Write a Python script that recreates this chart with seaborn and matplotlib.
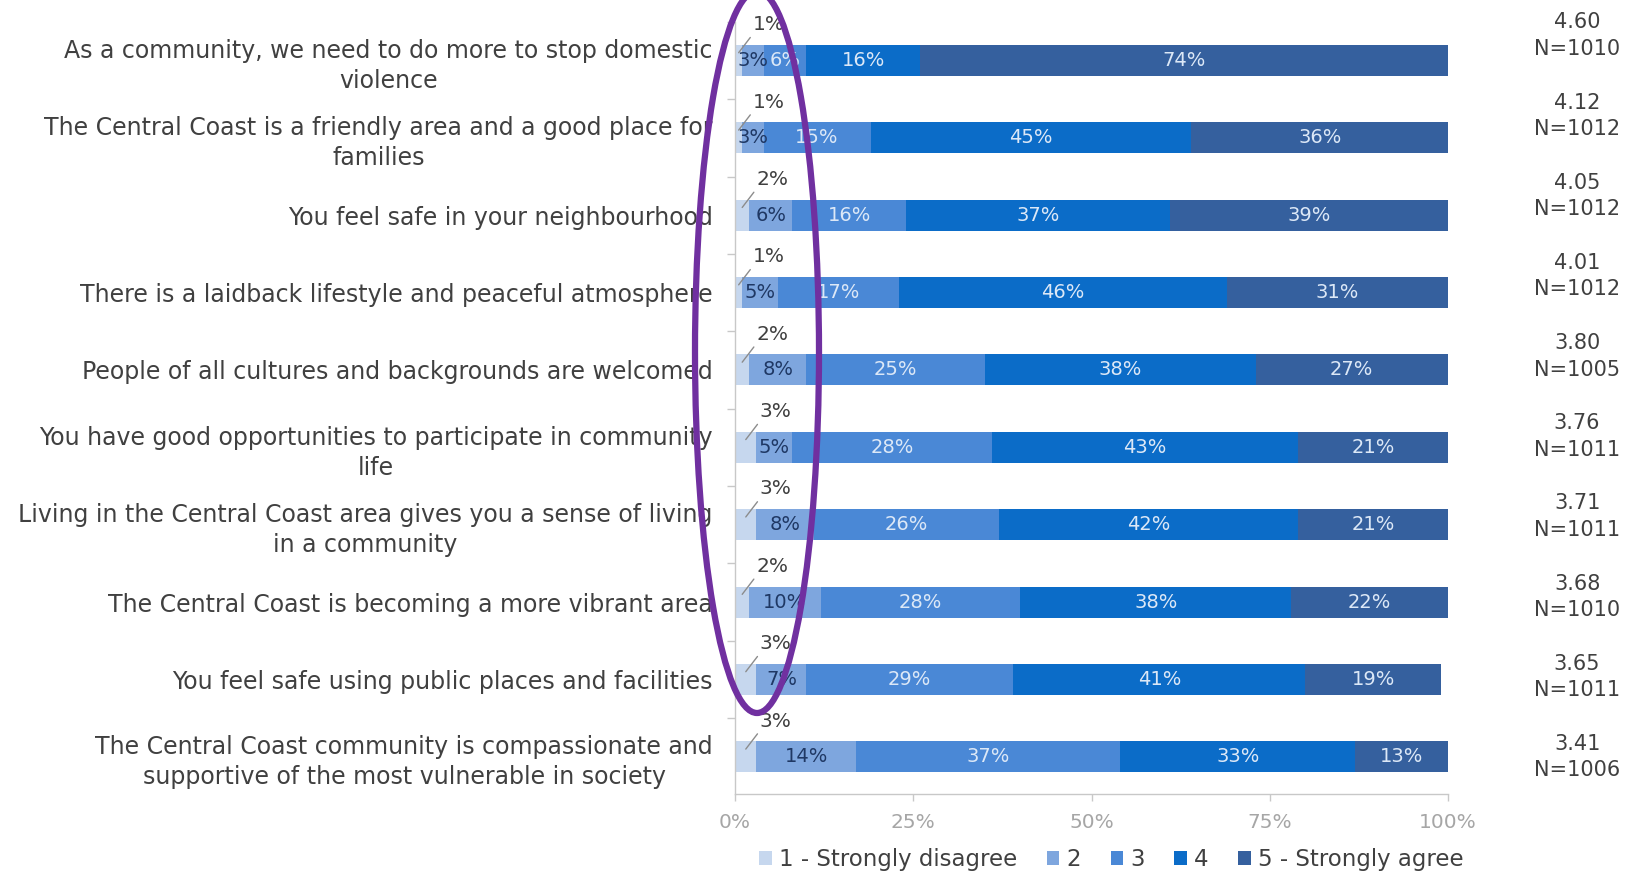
import numpy as np
import pandas as pd
import seaborn as sns
import matplotlib.pyplot as plt
import matplotlib.transforms as mtransforms
from matplotlib.patches import Patch, Ellipse
from matplotlib.ticker import FixedLocator

# Survey statements (top to bottom)
statements = [
    "As a community, we need to do more to stop domestic\nviolence",
    "The Central Coast is a friendly area and a good place for\nfamilies",
    "You feel safe in your neighbourhood",
    "There is a laidback lifestyle and peaceful atmosphere",
    "People of all cultures and backgrounds are welcomed",
    "You have good opportunities to participate in community\nlife",
    "Living in the Central Coast area gives you a sense of living\nin a community",
    "The Central Coast is becoming a more vibrant area",
    "You feel safe using public places and facilities",
    "The Central Coast community is compassionate and\nsupportive of the most vulnerable in society",
]

# Response shares (%) per agreement level
strongly_disagree = [1, 1, 2, 1, 2, 3, 3, 2, 3, 3]
level_2 = [3, 3, 6, 5, 8, 5, 8, 10, 7, 14]
level_3 = [6, 15, 16, 17, 25, 28, 26, 28, 29, 37]
level_4 = [16, 45, 37, 46, 38, 43, 42, 38, 41, 33]
strongly_agree = [74, 36, 39, 31, 27, 21, 21, 22, 19, 13]

mean_scores = [4.60, 4.12, 4.05, 4.01, 3.80, 3.76, 3.71, 3.68, 3.65, 3.41]
sample_sizes = [1010, 1012, 1012, 1012, 1005, 1011, 1011, 1010, 1011, 1006]

level_labels = ["1 - Strongly disagree", "2", "3", "4", "5 - Strongly agree"]
x_ticks = [0, 25, 50, 75, 100]

colors = ["#c6d7ee", "#7ea6de", "#4a88d6", "#0b6cc8", "#35609e"]
dark_text = "#1f3864"
light_text = "#dce8f7"
label_grey = "#404040"

sns.set_theme(style="white")
plt.rcParams["font.family"] = ["DejaVu Sans"]

levels = [strongly_disagree, level_2, level_3, level_4, strongly_agree]
shares = np.array(levels, dtype=float)
cumulative = np.cumsum(shares, axis=0)

fig = plt.figure(figsize=(16.27, 8.81), dpi=100)
fig.patch.set_facecolor("white")
ax = fig.add_axes([0.4518, 0.0988, 0.4382, 0.8765])

# Stacked bars: draw the running totals from the longest to the shortest
for k in range(len(levels) - 1, -1, -1):
    df = pd.DataFrame({"statement": statements, "total": cumulative[k]})
    sns.barplot(data=df, x="total", y="statement", orient="y", color=colors[k],
                width=0.4, saturation=1, edgecolor="none", linewidth=0, ax=ax)

ax.set_xlim(0, 100)
ax.set_ylim(9.48, -0.5)
ax.set_xlabel("")
ax.set_ylabel("")

# Segment labels
for i in range(len(statements)):
    for k in range(1, len(levels)):
        val = shares[k, i]
        centre = cumulative[k, i] - val / 2
        ax.text(centre, i, f"{int(val)}%", ha="center", va="center",
                fontsize=14, color=dark_text if k == 1 else light_text, zorder=5)
    v1 = shares[0, i]
    ax.annotate(f"{int(v1)}%", xy=(v1 / 2, i - 0.1), xytext=(30, 28),
                textcoords="offset pixels", ha="center", va="center",
                fontsize=14.5, color=label_grey,
                arrowprops=dict(arrowstyle="-", color="#8c8c8c", lw=1,
                                shrinkA=0, shrinkB=0, relpos=(0.05, 0.1)))

# Mean score and sample size to the right of each bar
trans = mtransforms.blended_transform_factory(ax.transAxes, ax.transData)
for i, (m, n) in enumerate(zip(mean_scores, sample_sizes)):
    y = i - 0.32 + 0.036 * i
    ax.text(1.181, y, f"{m:.2f}\nN={n}", transform=trans, ha="center",
            va="center", fontsize=15, color=label_grey, linespacing=1.4,
            clip_on=False)

# Axes styling
ax.set_xticks(x_ticks)
ax.set_xticklabels([f"{t}%" for t in x_ticks], color="#a6a6a6", fontsize=14.5)
ax.tick_params(axis="x", bottom=True, length=5, width=1, color="#c8c8c8", pad=9)
ax.set_yticks(range(len(statements)))
ax.set_yticklabels(statements, fontsize=17, color=label_grey, linespacing=1.3)
for t in ax.get_yticklabels():
    t.set_multialignment("center")
ax.tick_params(axis="y", which="major", left=False, length=0, pad=16)
ax.yaxis.set_minor_locator(FixedLocator(np.arange(-0.5, 9.6, 1)))
ax.tick_params(axis="y", which="minor", left=True, length=6, width=1,
               color="#c8c8c8")
for side in ["top", "right"]:
    ax.spines[side].set_visible(False)
for side in ["left", "bottom"]:
    ax.spines[side].set_color("#c8c8c8")
    ax.spines[side].set_linewidth(1)

# Legend
handles = [Patch(facecolor=c, edgecolor="none") for c in colors]
fig.legend(handles, level_labels, loc="center", bbox_to_anchor=(0.683, 0.024),
           ncol=5, frameon=False, fontsize=16.5, handlelength=0.55,
           handleheight=0.55, handletextpad=0.3, columnspacing=1.3,
           labelcolor=label_grey)

# Highlight ring around the low-agreement shares
ring = Ellipse((757 / 1627, 1 - 352 / 881), 124 / 1627, 722 / 881,
               transform=fig.transFigure, fill=False, edgecolor="#7030a0",
               linewidth=4.5, zorder=20, clip_on=False)
fig.add_artist(ring)

fig.savefig("out.png", dpi=100, facecolor="white")
